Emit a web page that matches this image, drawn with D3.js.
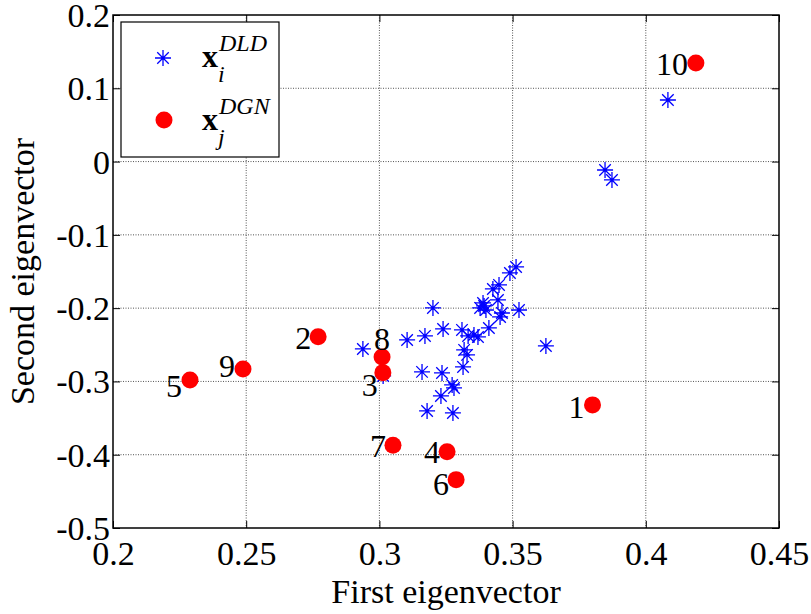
<!DOCTYPE html>
<html>
<head>
<meta charset="utf-8">
<script src="https://cdn.jsdelivr.net/npm/d3@7"></script>
<style>
  body { margin: 0; background: #fff; }
  svg text { font-family: "Liberation Serif", "Times New Roman", serif; fill: #000; }
</style>
</head>
<body>
<div id="chart"></div>
<script>
// data
const xTicks = [0.2, 0.25, 0.3, 0.35, 0.4, 0.45];
const yTicks = [-0.5, -0.4, -0.3, -0.2, -0.1, 0, 0.1, 0.2];

// blue stars (x_i^DLD)
const dldX = [0.2938, 0.3014, 0.3104, 0.3171, 0.3239, 0.3201, 0.3310, 0.3333, 0.3355, 0.3370,
              0.3411, 0.3389, 0.3378, 0.3400, 0.3445, 0.3449, 0.3426, 0.3490, 0.3513, 0.3524,
              0.3460, 0.3453, 0.3625, 0.3318, 0.3329, 0.3314, 0.3160, 0.3235, 0.3273, 0.3280,
              0.3231, 0.3179, 0.3276, 0.4083, 0.3847, 0.3873, 0.3393];
const dldY = [-0.2557, -0.2925, -0.2434, -0.2379, -0.2284, -0.1997, -0.2297, -0.2379, -0.2366, -0.2393,
              -0.2270, -0.1929, -0.1997, -0.2025, -0.1888, -0.1683, -0.1738, -0.1520, -0.1438, -0.2025,
              -0.2066, -0.2120, -0.2516, -0.2570, -0.2638, -0.2802, -0.2870, -0.2884, -0.3048, -0.3089,
              -0.3198, -0.3403, -0.3430, 0.0840, -0.0115, -0.0251, -0.1970];

// red dots (x_j^DGN), numbered 1..10
const dgnLabels = ["1", "2", "3", "4", "5", "6", "7", "8", "9", "10"];
const dgnX = [0.380, 0.277, 0.3013, 0.3254, 0.2289, 0.3288, 0.3051, 0.3010, 0.2488, 0.4188];
const dgnY = [-0.332, -0.239, -0.288, -0.396, -0.298, -0.434, -0.387, -0.2666, -0.283, 0.1345];

// where each number sits relative to its dot (px)
const labelDx = [-8, -7, -5, -7, -8, -7, -7, 8, -8, -8];
const labelDy = [13, 12, 23, 11, 17, 15, 12, -7, 8, 12];

const W = 811, H = 614;
const plot = {left: 113, right: 779, top: 15, bottom: 528};

const svg = d3.select("#chart").append("svg")
    .attr("width", W)
    .attr("height", H);

const x = d3.scaleLinear().domain([0.2, 0.45]).range([plot.left, plot.right]);
const y = d3.scaleLinear().domain([-0.5, 0.2]).range([plot.bottom, plot.top]);

const fmt = d => d === 0 ? "0" : String(+d.toFixed(2));

// grid
const grid = svg.append("g")
    .attr("stroke", "#555")
    .attr("stroke-width", 1)
    .attr("stroke-dasharray", "1,1.5");
grid.selectAll(".gx")
    .data(xTicks.slice(1, -1))
    .enter().append("line")
    .attr("x1", d => x(d)).attr("x2", d => x(d))
    .attr("y1", plot.top).attr("y2", plot.bottom);
grid.selectAll(".gy")
    .data(yTicks.slice(1, -1))
    .enter().append("line")
    .attr("y1", d => y(d)).attr("y2", d => y(d))
    .attr("x1", plot.left).attr("x2", plot.right);

// axes, ticks pointing inward on all four sides
const tick = 7;
svg.append("g")
    .attr("transform", `translate(0,${plot.bottom})`)
    .call(d3.axisBottom(x).tickValues(xTicks).tickSize(-tick).tickPadding(8).tickFormat(fmt))
    .call(g => g.select(".domain").remove())
    .call(g => g.selectAll("text").attr("font-size", 34).attr("font-family", "Liberation Serif").attr("dy", "0.86em"));
svg.append("g")
    .attr("transform", `translate(0,${plot.top})`)
    .call(d3.axisTop(x).tickValues(xTicks).tickSize(-tick).tickFormat(""))
    .call(g => g.select(".domain").remove());
svg.append("g")
    .attr("transform", `translate(${plot.left},0)`)
    .call(d3.axisLeft(y).tickValues(yTicks).tickSize(-tick).tickPadding(3).tickFormat(fmt))
    .call(g => g.select(".domain").remove())
    .call(g => g.selectAll("text").attr("font-size", 34).attr("font-family", "Liberation Serif").attr("dy", "0.34em"));
svg.append("g")
    .attr("transform", `translate(${plot.right},0)`)
    .call(d3.axisRight(y).tickValues(yTicks).tickSize(-tick).tickFormat(""))
    .call(g => g.select(".domain").remove());
svg.selectAll(".tick line").attr("stroke", "#000").attr("stroke-width", 1);

svg.append("rect")
    .attr("x", plot.left).attr("y", plot.top)
    .attr("width", plot.right - plot.left).attr("height", plot.bottom - plot.top)
    .attr("fill", "none").attr("stroke", "#000").attr("stroke-width", 1.5);

// axis titles
svg.append("text")
    .attr("x", (plot.left + plot.right) / 2).attr("y", 603)
    .attr("text-anchor", "middle").attr("font-size", 34)
    .text("First eigenvector");
svg.append("text")
    .attr("transform", `translate(34,${(plot.top + plot.bottom) / 2}) rotate(-90)`)
    .attr("text-anchor", "middle").attr("font-size", 34)
    .text("Second eigenvector");

// asterisk marker like MATLAB '*'
function star(g, cx, cy, r) {
    const d = r * 0.72;
    g.append("path")
        .attr("d", `M${cx - r},${cy}H${cx + r}M${cx},${cy - r}V${cy + r}` +
                   `M${cx - d},${cy - d}L${cx + d},${cy + d}M${cx - d},${cy + d}L${cx + d},${cy - d}`)
        .attr("stroke", "#0000ff").attr("stroke-width", 1.3).attr("fill", "none");
}

const stars = svg.append("g");
dldX.forEach((v, i) => star(stars, x(v), y(dldY[i]), 8));

const dots = svg.append("g");
dots.selectAll("circle")
    .data(dgnX)
    .enter().append("circle")
    .attr("cx", d => x(d))
    .attr("cy", (d, i) => y(dgnY[i]))
    .attr("r", 8.5)
    .attr("fill", "#ff0000");

dots.selectAll("text")
    .data(dgnLabels)
    .enter().append("text")
    .attr("x", (d, i) => x(dgnX[i]) + labelDx[i])
    .attr("y", (d, i) => y(dgnY[i]) + labelDy[i])
    .attr("text-anchor", "end")
    .attr("font-size", 32)
    .text(d => d);

// legend
const lg = svg.append("g");
lg.append("rect")
    .attr("x", 121).attr("y", 22).attr("width", 158).attr("height", 135)
    .attr("fill", "#fff").attr("stroke", "#000").attr("stroke-width", 1.2);
star(lg, 163, 58, 8);
lg.append("circle").attr("cx", 164).attr("cy", 120).attr("r", 8.5).attr("fill", "#ff0000");

const legendItems = [
    {sup: "DLD", sub: "i", base: 67},
    {sup: "DGN", sub: "j", base: 130}
];
legendItems.forEach(it => {
    lg.append("text").attr("x", 202).attr("y", it.base)
        .attr("font-size", 32).attr("font-weight", "bold").text("x");
    lg.append("text").attr("x", 219).attr("y", it.base - 16)
        .attr("font-size", 24).attr("font-style", "italic").text(it.sup);
    lg.append("text").attr("x", 218).attr("y", it.base + 15)
        .attr("font-size", 24).attr("font-style", "italic").text(it.sub);
});
</script>
</body>
</html>
